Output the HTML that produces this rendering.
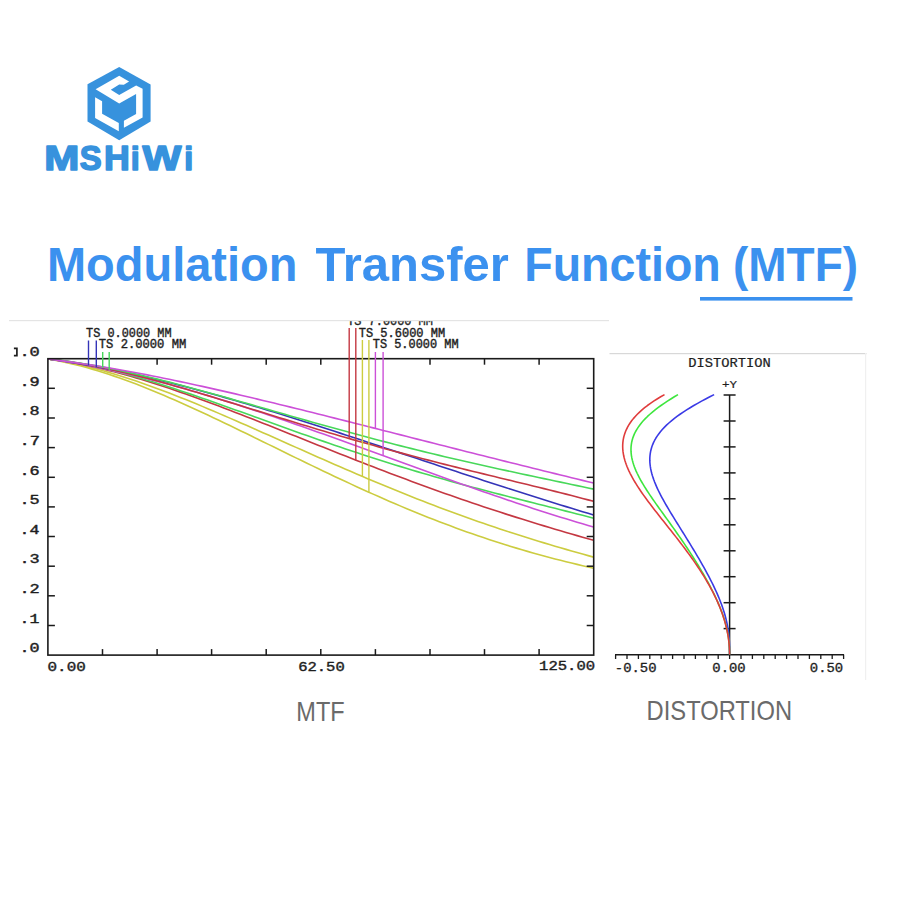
<!DOCTYPE html>
<html><head><meta charset="utf-8"><title>MTF</title>
<style>
html,body{margin:0;padding:0;background:#fff;}
body{width:900px;height:900px;overflow:hidden;font-family:"Liberation Sans",sans-serif;}
svg{display:block;}
</style></head>
<body>
<svg width="900" height="900" viewBox="0 0 900 900">
<rect width="900" height="900" fill="#fff"/>
<polygon points="119.2,67.0 150.6,84.6 150.6,121.6 119.2,140.2 87.5,121.4 87.5,84.2" fill="#3792dd"/>
<polygon points="95.6,89.3 119.2,75.8 129.1,81.5 123.8,84.8 119.2,84.5 110.8,89.8 119.2,95.0 136.1,85.4 142.6,88.8 142.6,117.6 123.9,127.8 123.9,120.8 136.1,114.0 136.1,94.0 119.2,103.4" fill="#fff"/>
<polygon points="95.1,97.3 102.1,101.3 102.1,113.7 118.8,123.0 118.8,131.3 95.1,118.0" fill="#fff"/>
<text transform="translate(44.26,169.90) scale(1.2016,1)" font-family="Liberation Sans" font-weight="bold" font-size="35.07" fill="#3792dd" stroke="#3792dd" stroke-width="1.6" stroke-linejoin="round">M</text>
<text transform="translate(79.81,169.85) scale(0.9400,1)" font-family="Liberation Sans" font-weight="bold" font-size="34.93" fill="#3792dd" stroke="#3792dd" stroke-width="1.6" stroke-linejoin="round">S</text>
<text transform="translate(104.08,169.90) scale(1.0197,1)" font-family="Liberation Sans" font-weight="bold" font-size="35.07" fill="#3792dd" stroke="#3792dd" stroke-width="1.6" stroke-linejoin="round">H</text>
<text transform="translate(130.75,169.90) scale(0.9670,1)" font-family="Liberation Sans" font-weight="bold" font-size="33.24" fill="#3792dd" stroke="#3792dd" stroke-width="1.6" stroke-linejoin="round">i</text>
<text transform="translate(142.50,169.90) scale(1.1737,1)" font-family="Liberation Sans" font-weight="bold" font-size="35.07" fill="#3792dd" stroke="#3792dd" stroke-width="1.6" stroke-linejoin="round">W</text>
<text transform="translate(184.15,169.90) scale(0.9670,1)" font-family="Liberation Sans" font-weight="bold" font-size="33.24" fill="#3792dd" stroke="#3792dd" stroke-width="1.6" stroke-linejoin="round">i</text>
<text transform="translate(46.95,280.60) scale(0.9589,1)" font-family="Liberation Sans" font-weight="bold" font-size="48.99" fill="#3b91ef">Modulation</text>
<text transform="translate(315.51,280.60) scale(0.9999,1)" font-family="Liberation Sans" font-weight="bold" font-size="48.99" fill="#3b91ef">Transfer</text>
<text transform="translate(524.17,280.60) scale(0.9512,1)" font-family="Liberation Sans" font-weight="bold" font-size="48.99" fill="#3b91ef">Function</text>
<text transform="translate(733.00,280.60) scale(0.9387,1)" font-family="Liberation Sans" font-weight="bold" font-size="48.99" fill="#3b91ef">(MTF)</text>
<rect x="700" y="297" width="152.5" height="3.6" fill="#3b91ef"/>
<path d="M48.00,359.00 L53.51,359.95 L59.02,361.00 L64.53,362.14 L70.04,363.37 L75.56,364.69 L81.07,366.09 L86.58,367.58 L92.09,369.14 L97.60,370.78 L103.11,372.49 L108.62,374.27 L114.13,376.12 L119.64,378.03 L125.16,380.00 L130.67,382.03 L136.18,384.11 L141.69,386.25 L147.20,388.44 L152.71,390.67 L158.22,392.95 L163.73,395.28 L169.24,397.64 L174.76,400.04 L180.27,402.47 L185.78,404.94 L191.29,407.43 L196.80,409.96 L202.31,412.51 L207.82,415.08 L213.33,417.68 L218.84,420.30 L224.36,422.93 L229.87,425.58 L235.38,428.24 L240.89,430.91 L246.40,433.59 L251.91,436.28 L257.42,438.98 L262.93,441.68 L268.44,444.38 L273.96,447.08 L279.47,449.79 L284.98,452.49 L290.49,455.18 L296.00,457.87 L301.51,460.55 L307.02,463.22 L312.53,465.89 L318.04,468.54 L323.56,471.18 L329.07,473.80 L334.58,476.41 L340.09,479.00 L345.60,481.58 L351.11,484.13 L356.62,486.67 L362.13,489.18 L367.64,491.67 L373.16,494.14 L378.67,496.59 L384.18,499.01 L389.69,501.41 L395.20,503.78 L400.71,506.12 L406.22,508.43 L411.73,510.72 L417.24,512.98 L422.76,515.20 L428.27,517.40 L433.78,519.56 L439.29,521.70 L444.80,523.80 L450.31,525.87 L455.82,527.91 L461.33,529.92 L466.84,531.89 L472.36,533.83 L477.87,535.74 L483.38,537.61 L488.89,539.45 L494.40,541.25 L499.91,543.02 L505.42,544.76 L510.93,546.47 L516.44,548.14 L521.96,549.77 L527.47,551.38 L532.98,552.95 L538.49,554.49 L544.00,556.00 L549.51,557.47 L555.02,558.91 L560.53,560.33 L566.04,561.71 L571.56,563.06 L577.07,564.38 L582.58,565.67 L588.09,566.94 L593.60,568.17" fill="none" stroke="#cccc40" stroke-width="1.6" stroke-linejoin="round"/>
<path d="M48.00,359.00 L53.51,359.82 L59.02,360.73 L64.53,361.73 L70.04,362.80 L75.56,363.95 L81.07,365.18 L86.58,366.49 L92.09,367.86 L97.60,369.30 L103.11,370.81 L108.62,372.38 L114.13,374.01 L119.64,375.70 L125.16,377.44 L130.67,379.24 L136.18,381.08 L141.69,382.98 L147.20,384.92 L152.71,386.90 L158.22,388.93 L163.73,391.00 L169.24,393.10 L174.76,395.24 L180.27,397.41 L185.78,399.61 L191.29,401.84 L196.80,404.10 L202.31,406.38 L207.82,408.69 L213.33,411.02 L218.84,413.37 L224.36,415.73 L229.87,418.11 L235.38,420.51 L240.89,422.92 L246.40,425.34 L251.91,427.77 L257.42,430.21 L262.93,432.65 L268.44,435.10 L273.96,437.56 L279.47,440.01 L284.98,442.47 L290.49,444.93 L296.00,447.38 L301.51,449.84 L307.02,452.28 L312.53,454.73 L318.04,457.16 L323.56,459.59 L329.07,462.02 L334.58,464.43 L340.09,466.83 L345.60,469.22 L351.11,471.60 L356.62,473.96 L362.13,476.31 L367.64,478.65 L373.16,480.97 L378.67,483.27 L384.18,485.56 L389.69,487.83 L395.20,490.08 L400.71,492.31 L406.22,494.53 L411.73,496.72 L417.24,498.90 L422.76,501.05 L428.27,503.18 L433.78,505.29 L439.29,507.38 L444.80,509.45 L450.31,511.50 L455.82,513.52 L461.33,515.52 L466.84,517.50 L472.36,519.46 L477.87,521.39 L483.38,523.30 L488.89,525.19 L494.40,527.06 L499.91,528.90 L505.42,530.73 L510.93,532.53 L516.44,534.30 L521.96,536.06 L527.47,537.80 L532.98,539.51 L538.49,541.21 L544.00,542.88 L549.51,544.53 L555.02,546.17 L560.53,547.79 L566.04,549.39 L571.56,550.97 L577.07,552.53 L582.58,554.08 L588.09,555.62 L593.60,557.13" fill="none" stroke="#cccc40" stroke-width="1.6" stroke-linejoin="round"/>
<path d="M48.00,359.00 L53.51,359.69 L59.02,360.46 L64.53,361.30 L70.04,362.22 L75.56,363.20 L81.07,364.25 L86.58,365.36 L92.09,366.54 L97.60,367.77 L103.11,369.07 L108.62,370.42 L114.13,371.82 L119.64,373.27 L125.16,374.78 L130.67,376.33 L136.18,377.93 L141.69,379.57 L147.20,381.25 L152.71,382.97 L158.22,384.73 L163.73,386.53 L169.24,388.36 L174.76,390.22 L180.27,392.12 L185.78,394.04 L191.29,396.00 L196.80,397.97 L202.31,399.98 L207.82,402.00 L213.33,404.05 L218.84,406.11 L224.36,408.20 L229.87,410.30 L235.38,412.41 L240.89,414.54 L246.40,416.69 L251.91,418.84 L257.42,421.01 L262.93,423.18 L268.44,425.36 L273.96,427.55 L279.47,429.74 L284.98,431.94 L290.49,434.14 L296.00,436.34 L301.51,438.54 L307.02,440.74 L312.53,442.94 L318.04,445.14 L323.56,447.34 L329.07,449.53 L334.58,451.71 L340.09,453.90 L345.60,456.07 L351.11,458.24 L356.62,460.40 L362.13,462.55 L367.64,464.69 L373.16,466.82 L378.67,468.94 L384.18,471.05 L389.69,473.15 L395.20,475.24 L400.71,477.31 L406.22,479.37 L411.73,481.42 L417.24,483.45 L422.76,485.47 L428.27,487.47 L433.78,489.46 L439.29,491.44 L444.80,493.39 L450.31,495.34 L455.82,497.26 L461.33,499.17 L466.84,501.07 L472.36,502.94 L477.87,504.81 L483.38,506.65 L488.89,508.48 L494.40,510.29 L499.91,512.09 L505.42,513.87 L510.93,515.63 L516.44,517.38 L521.96,519.11 L527.47,520.83 L532.98,522.53 L538.49,524.22 L544.00,525.89 L549.51,527.55 L555.02,529.19 L560.53,530.82 L566.04,532.44 L571.56,534.04 L577.07,535.63 L582.58,537.22 L588.09,538.79 L593.60,540.34" fill="none" stroke="#c43842" stroke-width="1.6" stroke-linejoin="round"/>
<path d="M48.00,359.00 L53.51,359.59 L59.02,360.26 L64.53,361.02 L70.04,361.86 L75.56,362.77 L81.07,363.75 L86.58,364.80 L92.09,365.92 L97.60,367.11 L103.11,368.35 L108.62,369.65 L114.13,371.01 L119.64,372.42 L125.16,373.88 L130.67,375.39 L136.18,376.94 L141.69,378.53 L147.20,380.16 L152.71,381.83 L158.22,383.54 L163.73,385.28 L169.24,387.05 L174.76,388.84 L180.27,390.66 L185.78,392.51 L191.29,394.38 L196.80,396.27 L202.31,398.17 L207.82,400.10 L213.33,402.03 L218.84,403.98 L224.36,405.94 L229.87,407.91 L235.38,409.88 L240.89,411.87 L246.40,413.85 L251.91,415.84 L257.42,417.83 L262.93,419.82 L268.44,421.81 L273.96,423.80 L279.47,425.78 L284.98,427.76 L290.49,429.73 L296.00,431.69 L301.51,433.65 L307.02,435.60 L312.53,437.53 L318.04,439.46 L323.56,441.38 L329.07,443.28 L334.58,445.17 L340.09,447.04 L345.60,448.90 L351.11,450.75 L356.62,452.58 L362.13,454.40 L367.64,456.20 L373.16,457.98 L378.67,459.74 L384.18,461.49 L389.69,463.22 L395.20,464.94 L400.71,466.63 L406.22,468.31 L411.73,469.97 L417.24,471.62 L422.76,473.24 L428.27,474.85 L433.78,476.44 L439.29,478.02 L444.80,479.58 L450.31,481.12 L455.82,482.65 L461.33,484.17 L466.84,485.66 L472.36,487.15 L477.87,488.62 L483.38,490.08 L488.89,491.53 L494.40,492.96 L499.91,494.39 L505.42,495.81 L510.93,497.22 L516.44,498.62 L521.96,500.01 L527.47,501.40 L532.98,502.79 L538.49,504.17 L544.00,505.56 L549.51,506.94 L555.02,508.32 L560.53,509.71 L566.04,511.10 L571.56,512.49 L577.07,513.90 L582.58,515.31 L588.09,516.73 L593.60,518.16" fill="none" stroke="#48d85a" stroke-width="1.6" stroke-linejoin="round"/>
<path d="M48.00,359.00 L53.51,359.79 L59.02,360.61 L64.53,361.48 L70.04,362.38 L75.56,363.32 L81.07,364.30 L86.58,365.31 L92.09,366.37 L97.60,367.45 L103.11,368.57 L108.62,369.73 L114.13,370.92 L119.64,372.14 L125.16,373.39 L130.67,374.67 L136.18,375.99 L141.69,377.33 L147.20,378.70 L152.71,380.10 L158.22,381.53 L163.73,382.99 L169.24,384.47 L174.76,385.98 L180.27,387.52 L185.78,389.08 L191.29,390.66 L196.80,392.27 L202.31,393.90 L207.82,395.55 L213.33,397.22 L218.84,398.91 L224.36,400.62 L229.87,402.36 L235.38,404.11 L240.89,405.87 L246.40,407.66 L251.91,409.46 L257.42,411.28 L262.93,413.11 L268.44,414.96 L273.96,416.83 L279.47,418.70 L284.98,420.59 L290.49,422.49 L296.00,424.40 L301.51,426.33 L307.02,428.26 L312.53,430.20 L318.04,432.16 L323.56,434.12 L329.07,436.08 L334.58,438.06 L340.09,440.04 L345.60,442.03 L351.11,444.02 L356.62,446.01 L362.13,448.01 L367.64,450.02 L373.16,452.02 L378.67,454.03 L384.18,456.04 L389.69,458.04 L395.20,460.05 L400.71,462.06 L406.22,464.07 L411.73,466.07 L417.24,468.07 L422.76,470.07 L428.27,472.07 L433.78,474.06 L439.29,476.04 L444.80,478.02 L450.31,480.00 L455.82,481.96 L461.33,483.92 L466.84,485.87 L472.36,487.81 L477.87,489.74 L483.38,491.66 L488.89,493.57 L494.40,495.47 L499.91,497.36 L505.42,499.24 L510.93,501.10 L516.44,502.94 L521.96,504.78 L527.47,506.59 L532.98,508.40 L538.49,510.18 L544.00,511.95 L549.51,513.70 L555.02,515.43 L560.53,517.15 L566.04,518.84 L571.56,520.51 L577.07,522.17 L582.58,523.80 L588.09,525.41 L593.60,526.99" fill="none" stroke="#cc50d8" stroke-width="1.6" stroke-linejoin="round"/>
<path d="M48.00,359.00 L53.51,359.73 L59.02,360.49 L64.53,361.29 L70.04,362.13 L75.56,363.00 L81.07,363.91 L86.58,364.85 L92.09,365.83 L97.60,366.84 L103.11,367.88 L108.62,368.95 L114.13,370.05 L119.64,371.18 L125.16,372.34 L130.67,373.53 L136.18,374.74 L141.69,375.98 L147.20,377.25 L152.71,378.54 L158.22,379.86 L163.73,381.20 L169.24,382.57 L174.76,383.95 L180.27,385.36 L185.78,386.79 L191.29,388.25 L196.80,389.72 L202.31,391.21 L207.82,392.72 L213.33,394.25 L218.84,395.80 L224.36,397.36 L229.87,398.94 L235.38,400.53 L240.89,402.15 L246.40,403.77 L251.91,405.41 L257.42,407.07 L262.93,408.73 L268.44,410.41 L273.96,412.10 L279.47,413.80 L284.98,415.52 L290.49,417.24 L296.00,418.97 L301.51,420.72 L307.02,422.47 L312.53,424.23 L318.04,426.00 L323.56,427.77 L329.07,429.55 L334.58,431.34 L340.09,433.13 L345.60,434.93 L351.11,436.74 L356.62,438.54 L362.13,440.36 L367.64,442.17 L373.16,443.99 L378.67,445.81 L384.18,447.64 L389.69,449.46 L395.20,451.29 L400.71,453.12 L406.22,454.94 L411.73,456.77 L417.24,458.60 L422.76,460.43 L428.27,462.26 L433.78,464.08 L439.29,465.91 L444.80,467.73 L450.31,469.55 L455.82,471.36 L461.33,473.18 L466.84,474.99 L472.36,476.79 L477.87,478.60 L483.38,480.39 L488.89,482.19 L494.40,483.97 L499.91,485.76 L505.42,487.53 L510.93,489.30 L516.44,491.07 L521.96,492.83 L527.47,494.58 L532.98,496.32 L538.49,498.06 L544.00,499.79 L549.51,501.51 L555.02,503.23 L560.53,504.93 L566.04,506.63 L571.56,508.32 L577.07,510.00 L582.58,511.67 L588.09,513.33 L593.60,514.98" fill="none" stroke="#3434b8" stroke-width="1.6" stroke-linejoin="round"/>
<path d="M48.00,359.00 L53.51,359.60 L59.02,360.28 L64.53,361.02 L70.04,361.82 L75.56,362.68 L81.07,363.60 L86.58,364.58 L92.09,365.61 L97.60,366.69 L103.11,367.82 L108.62,369.00 L114.13,370.22 L119.64,371.48 L125.16,372.78 L130.67,374.11 L136.18,375.49 L141.69,376.89 L147.20,378.33 L152.71,379.79 L158.22,381.28 L163.73,382.80 L169.24,384.34 L174.76,385.91 L180.27,387.49 L185.78,389.09 L191.29,390.71 L196.80,392.34 L202.31,393.99 L207.82,395.64 L213.33,397.31 L218.84,398.99 L224.36,400.68 L229.87,402.37 L235.38,404.07 L240.89,405.77 L246.40,407.47 L251.91,409.17 L257.42,410.88 L262.93,412.59 L268.44,414.29 L273.96,415.99 L279.47,417.69 L284.98,419.38 L290.49,421.07 L296.00,422.75 L301.51,424.43 L307.02,426.09 L312.53,427.75 L318.04,429.40 L323.56,431.05 L329.07,432.68 L334.58,434.30 L340.09,435.92 L345.60,437.52 L351.11,439.11 L356.62,440.69 L362.13,442.25 L367.64,443.81 L373.16,445.35 L378.67,446.88 L384.18,448.40 L389.69,449.91 L395.20,451.41 L400.71,452.89 L406.22,454.36 L411.73,455.82 L417.24,457.27 L422.76,458.70 L428.27,460.13 L433.78,461.55 L439.29,462.95 L444.80,464.35 L450.31,465.74 L455.82,467.11 L461.33,468.49 L466.84,469.85 L472.36,471.21 L477.87,472.56 L483.38,473.90 L488.89,475.24 L494.40,476.58 L499.91,477.92 L505.42,479.25 L510.93,480.59 L516.44,481.92 L521.96,483.26 L527.47,484.59 L532.98,485.94 L538.49,487.28 L544.00,488.64 L549.51,490.00 L555.02,491.37 L560.53,492.75 L566.04,494.14 L571.56,495.55 L577.07,496.97 L582.58,498.41 L588.09,499.87 L593.60,501.35" fill="none" stroke="#c43842" stroke-width="1.6" stroke-linejoin="round"/>
<path d="M48.00,359.00 L53.51,359.58 L59.02,360.21 L64.53,360.90 L70.04,361.64 L75.56,362.44 L81.07,363.29 L86.58,364.18 L92.09,365.13 L97.60,366.11 L103.11,367.14 L108.62,368.21 L114.13,369.32 L119.64,370.46 L125.16,371.64 L130.67,372.86 L136.18,374.10 L141.69,375.38 L147.20,376.68 L152.71,378.01 L158.22,379.37 L163.73,380.75 L169.24,382.15 L174.76,383.57 L180.27,385.01 L185.78,386.47 L191.29,387.94 L196.80,389.43 L202.31,390.94 L207.82,392.45 L213.33,393.98 L218.84,395.52 L224.36,397.07 L229.87,398.62 L235.38,400.18 L240.89,401.75 L246.40,403.32 L251.91,404.89 L257.42,406.47 L262.93,408.05 L268.44,409.62 L273.96,411.20 L279.47,412.78 L284.98,414.35 L290.49,415.93 L296.00,417.50 L301.51,419.06 L307.02,420.62 L312.53,422.17 L318.04,423.72 L323.56,425.26 L329.07,426.80 L334.58,428.32 L340.09,429.84 L345.60,431.35 L351.11,432.85 L356.62,434.34 L362.13,435.81 L367.64,437.28 L373.16,438.74 L378.67,440.19 L384.18,441.63 L389.69,443.05 L395.20,444.47 L400.71,445.87 L406.22,447.26 L411.73,448.64 L417.24,450.01 L422.76,451.36 L428.27,452.70 L433.78,454.04 L439.29,455.36 L444.80,456.67 L450.31,457.96 L455.82,459.25 L461.33,460.53 L466.84,461.79 L472.36,463.05 L477.87,464.30 L483.38,465.53 L488.89,466.76 L494.40,467.98 L499.91,469.19 L505.42,470.39 L510.93,471.59 L516.44,472.77 L521.96,473.96 L527.47,475.14 L532.98,476.31 L538.49,477.48 L544.00,478.64 L549.51,479.81 L555.02,480.97 L560.53,482.13 L566.04,483.29 L571.56,484.45 L577.07,485.62 L582.58,486.78 L588.09,487.95 L593.60,489.13" fill="none" stroke="#48d85a" stroke-width="1.6" stroke-linejoin="round"/>
<path d="M48.00,359.00 L53.51,359.67 L59.02,360.38 L64.53,361.11 L70.04,361.86 L75.56,362.65 L81.07,363.45 L86.58,364.29 L92.09,365.14 L97.60,366.02 L103.11,366.93 L108.62,367.85 L114.13,368.80 L119.64,369.77 L125.16,370.75 L130.67,371.76 L136.18,372.79 L141.69,373.83 L147.20,374.90 L152.71,375.98 L158.22,377.07 L163.73,378.19 L169.24,379.32 L174.76,380.46 L180.27,381.62 L185.78,382.79 L191.29,383.98 L196.80,385.18 L202.31,386.39 L207.82,387.61 L213.33,388.85 L218.84,390.10 L224.36,391.35 L229.87,392.62 L235.38,393.90 L240.89,395.19 L246.40,396.48 L251.91,397.79 L257.42,399.10 L262.93,400.42 L268.44,401.75 L273.96,403.08 L279.47,404.42 L284.98,405.77 L290.49,407.12 L296.00,408.48 L301.51,409.84 L307.02,411.21 L312.53,412.58 L318.04,413.96 L323.56,415.34 L329.07,416.72 L334.58,418.11 L340.09,419.50 L345.60,420.89 L351.11,422.28 L356.62,423.68 L362.13,425.08 L367.64,426.48 L373.16,427.88 L378.67,429.28 L384.18,430.68 L389.69,432.08 L395.20,433.49 L400.71,434.89 L406.22,436.29 L411.73,437.69 L417.24,439.10 L422.76,440.50 L428.27,441.90 L433.78,443.30 L439.29,444.70 L444.80,446.09 L450.31,447.49 L455.82,448.88 L461.33,450.28 L466.84,451.67 L472.36,453.06 L477.87,454.44 L483.38,455.83 L488.89,457.21 L494.40,458.59 L499.91,459.97 L505.42,461.35 L510.93,462.72 L516.44,464.09 L521.96,465.46 L527.47,466.83 L532.98,468.19 L538.49,469.56 L544.00,470.91 L549.51,472.27 L555.02,473.63 L560.53,474.98 L566.04,476.33 L571.56,477.68 L577.07,479.02 L582.58,480.36 L588.09,481.70 L593.60,483.04" fill="none" stroke="#cc50d8" stroke-width="1.6" stroke-linejoin="round"/>
<rect x="47.9" y="358.7" width="545.8000000000001" height="296.40000000000003" fill="none" stroke="#1a1a1a" stroke-width="1.6"/>
<line x1="47.9" y1="388.3" x2="54.9" y2="388.3" stroke="#1a1a1a" stroke-width="1.5"/>
<line x1="593.7" y1="388.3" x2="586.7" y2="388.3" stroke="#1a1a1a" stroke-width="1.5"/>
<line x1="102.5" y1="655.1" x2="102.5" y2="649.1" stroke="#1a1a1a" stroke-width="1.5"/>
<line x1="47.9" y1="418.0" x2="54.9" y2="418.0" stroke="#1a1a1a" stroke-width="1.5"/>
<line x1="593.7" y1="418.0" x2="586.7" y2="418.0" stroke="#1a1a1a" stroke-width="1.5"/>
<line x1="157.1" y1="655.1" x2="157.1" y2="649.1" stroke="#1a1a1a" stroke-width="1.5"/>
<line x1="157.1" y1="358.7" x2="157.1" y2="364.7" stroke="#1a1a1a" stroke-width="1.5"/>
<line x1="47.9" y1="447.6" x2="54.9" y2="447.6" stroke="#1a1a1a" stroke-width="1.5"/>
<line x1="593.7" y1="447.6" x2="586.7" y2="447.6" stroke="#1a1a1a" stroke-width="1.5"/>
<line x1="211.6" y1="655.1" x2="211.6" y2="649.1" stroke="#1a1a1a" stroke-width="1.5"/>
<line x1="211.6" y1="358.7" x2="211.6" y2="364.7" stroke="#1a1a1a" stroke-width="1.5"/>
<line x1="47.9" y1="477.3" x2="54.9" y2="477.3" stroke="#1a1a1a" stroke-width="1.5"/>
<line x1="593.7" y1="477.3" x2="586.7" y2="477.3" stroke="#1a1a1a" stroke-width="1.5"/>
<line x1="266.2" y1="655.1" x2="266.2" y2="649.1" stroke="#1a1a1a" stroke-width="1.5"/>
<line x1="266.2" y1="358.7" x2="266.2" y2="364.7" stroke="#1a1a1a" stroke-width="1.5"/>
<line x1="47.9" y1="506.9" x2="54.9" y2="506.9" stroke="#1a1a1a" stroke-width="1.5"/>
<line x1="593.7" y1="506.9" x2="586.7" y2="506.9" stroke="#1a1a1a" stroke-width="1.5"/>
<line x1="320.8" y1="655.1" x2="320.8" y2="649.1" stroke="#1a1a1a" stroke-width="1.5"/>
<line x1="320.8" y1="358.7" x2="320.8" y2="364.7" stroke="#1a1a1a" stroke-width="1.5"/>
<line x1="47.9" y1="536.5" x2="54.9" y2="536.5" stroke="#1a1a1a" stroke-width="1.5"/>
<line x1="593.7" y1="536.5" x2="586.7" y2="536.5" stroke="#1a1a1a" stroke-width="1.5"/>
<line x1="375.4" y1="655.1" x2="375.4" y2="649.1" stroke="#1a1a1a" stroke-width="1.5"/>
<line x1="47.9" y1="566.2" x2="54.9" y2="566.2" stroke="#1a1a1a" stroke-width="1.5"/>
<line x1="593.7" y1="566.2" x2="586.7" y2="566.2" stroke="#1a1a1a" stroke-width="1.5"/>
<line x1="430.0" y1="655.1" x2="430.0" y2="649.1" stroke="#1a1a1a" stroke-width="1.5"/>
<line x1="430.0" y1="358.7" x2="430.0" y2="364.7" stroke="#1a1a1a" stroke-width="1.5"/>
<line x1="47.9" y1="595.8" x2="54.9" y2="595.8" stroke="#1a1a1a" stroke-width="1.5"/>
<line x1="593.7" y1="595.8" x2="586.7" y2="595.8" stroke="#1a1a1a" stroke-width="1.5"/>
<line x1="484.5" y1="655.1" x2="484.5" y2="649.1" stroke="#1a1a1a" stroke-width="1.5"/>
<line x1="484.5" y1="358.7" x2="484.5" y2="364.7" stroke="#1a1a1a" stroke-width="1.5"/>
<line x1="47.9" y1="625.5" x2="54.9" y2="625.5" stroke="#1a1a1a" stroke-width="1.5"/>
<line x1="593.7" y1="625.5" x2="586.7" y2="625.5" stroke="#1a1a1a" stroke-width="1.5"/>
<line x1="539.1" y1="655.1" x2="539.1" y2="649.1" stroke="#1a1a1a" stroke-width="1.5"/>
<line x1="539.1" y1="358.7" x2="539.1" y2="364.7" stroke="#1a1a1a" stroke-width="1.5"/>
<line x1="88.5" y1="340.5" x2="88.5" y2="365.5" stroke="#3434b8" stroke-width="1.4"/>
<line x1="96.3" y1="340.5" x2="96.3" y2="366.9" stroke="#3434b8" stroke-width="1.4"/>
<line x1="102.7" y1="352.0" x2="102.7" y2="367.4" stroke="#48d85a" stroke-width="1.4"/>
<line x1="109.2" y1="352.0" x2="109.2" y2="370.1" stroke="#48d85a" stroke-width="1.4"/>
<line x1="349.2" y1="328.0" x2="349.2" y2="438.9" stroke="#c43842" stroke-width="1.4"/>
<line x1="355.8" y1="328.0" x2="355.8" y2="460.4" stroke="#c43842" stroke-width="1.4"/>
<line x1="362.4" y1="340.0" x2="362.4" y2="476.7" stroke="#cccc40" stroke-width="1.4"/>
<line x1="368.9" y1="340.0" x2="368.9" y2="492.5" stroke="#cccc40" stroke-width="1.4"/>
<line x1="375.4" y1="352.0" x2="375.4" y2="428.7" stroke="#cc50d8" stroke-width="1.4"/>
<line x1="383.1" y1="352.0" x2="383.1" y2="455.9" stroke="#cc50d8" stroke-width="1.4"/>
<text transform="translate(19.42,355.88) scale(1.3600,1)" font-family="Liberation Mono" font-size="12.50" fill="#1e1e1e" stroke="#1e1e1e" stroke-width="0.4" stroke-linejoin="round">.0</text>
<path d="M13.9,348.3 H16.9 V355.6 H13.9" fill="none" stroke="#1e1e1e" stroke-width="1.7"/>
<text transform="translate(19.43,385.62) scale(1.4070,1)" font-family="Liberation Mono" font-size="12.06" fill="#1e1e1e" stroke="#1e1e1e" stroke-width="0.4" stroke-linejoin="round">.9</text>
<text transform="translate(19.45,415.26) scale(1.3991,1)" font-family="Liberation Mono" font-size="12.06" fill="#1e1e1e" stroke="#1e1e1e" stroke-width="0.4" stroke-linejoin="round">.8</text>
<text transform="translate(19.38,445.02) scale(1.3811,1)" font-family="Liberation Mono" font-size="12.42" fill="#1e1e1e" stroke="#1e1e1e" stroke-width="0.4" stroke-linejoin="round">.7</text>
<text transform="translate(19.45,474.54) scale(1.3991,1)" font-family="Liberation Mono" font-size="12.06" fill="#1e1e1e" stroke="#1e1e1e" stroke-width="0.4" stroke-linejoin="round">.6</text>
<text transform="translate(19.45,504.18) scale(1.3785,1)" font-family="Liberation Mono" font-size="12.24" fill="#1e1e1e" stroke="#1e1e1e" stroke-width="0.4" stroke-linejoin="round">.5</text>
<text transform="translate(19.52,533.94) scale(1.3356,1)" font-family="Liberation Mono" font-size="12.42" fill="#1e1e1e" stroke="#1e1e1e" stroke-width="0.4" stroke-linejoin="round">.4</text>
<text transform="translate(19.45,563.46) scale(1.3991,1)" font-family="Liberation Mono" font-size="12.06" fill="#1e1e1e" stroke="#1e1e1e" stroke-width="0.4" stroke-linejoin="round">.3</text>
<text transform="translate(19.43,593.22) scale(1.3863,1)" font-family="Liberation Mono" font-size="12.24" fill="#1e1e1e" stroke="#1e1e1e" stroke-width="0.4" stroke-linejoin="round">.2</text>
<text transform="translate(19.52,622.86) scale(1.3356,1)" font-family="Liberation Mono" font-size="12.42" fill="#1e1e1e" stroke="#1e1e1e" stroke-width="0.4" stroke-linejoin="round">.1</text>
<text transform="translate(19.47,652.38) scale(1.3913,1)" font-family="Liberation Mono" font-size="12.06" fill="#1e1e1e" stroke="#1e1e1e" stroke-width="0.4" stroke-linejoin="round">.0</text>
<text transform="translate(47.54,670.67) scale(1.2164,1)" font-family="Liberation Mono" font-size="13.09" fill="#1e1e1e" stroke="#1e1e1e" stroke-width="0.4" stroke-linejoin="round">0.00</text>
<text transform="translate(298.14,670.56) scale(1.1357,1)" font-family="Liberation Mono" font-size="13.68" fill="#1e1e1e" stroke="#1e1e1e" stroke-width="0.4" stroke-linejoin="round">62.50</text>
<text transform="translate(539.11,670.46) scale(1.1502,1)" font-family="Liberation Mono" font-size="13.53" fill="#1e1e1e" stroke="#1e1e1e" stroke-width="0.4" stroke-linejoin="round">125.00</text>
<text transform="translate(86.08,336.97) scale(0.9072,1)" font-family="Liberation Mono" font-size="13.09" fill="#1e1e1e" stroke="#1e1e1e" stroke-width="0.4" stroke-linejoin="round">TS 0.0000 MM</text>
<text transform="translate(98.77,348.38) scale(0.9958,1)" font-family="Liberation Mono" font-size="12.21" fill="#1e1e1e" stroke="#1e1e1e" stroke-width="0.4" stroke-linejoin="round">TS 2.0000 MM</text>
<text transform="translate(347.18,324.67) scale(0.9104,1)" font-family="Liberation Mono" font-size="13.09" fill="#1e1e1e" stroke="#1e1e1e" stroke-width="0.4" stroke-linejoin="round">TS 7.0000 MM</text>
<text transform="translate(358.78,336.58) scale(0.9831,1)" font-family="Liberation Mono" font-size="12.21" fill="#1e1e1e" stroke="#1e1e1e" stroke-width="0.4" stroke-linejoin="round">TS 5.6000 MM</text>
<text transform="translate(372.78,348.18) scale(1.0003,1)" font-family="Liberation Mono" font-size="11.91" fill="#1e1e1e" stroke="#1e1e1e" stroke-width="0.4" stroke-linejoin="round">TS 5.0000 MM</text>
<rect x="0" y="305" width="609" height="15" fill="#fff"/>
<rect x="9" y="320" width="600" height="1.2" fill="#e4e4e4"/>
<rect x="609.5" y="353" width="257" height="1.2" fill="#d8d8d8"/>
<rect x="865" y="353" width="1.2" height="327" fill="#f0f0f0"/>
<text transform="translate(688.20,366.67) scale(1.1014,1)" font-family="Liberation Mono" font-size="12.50" fill="#1e1e1e" stroke="#1e1e1e" stroke-width="0.2" stroke-linejoin="round">DISTORTION</text>
<text transform="translate(722.01,387.80) scale(1.0819,1)" font-family="Liberation Mono" font-size="11.67" fill="#1e1e1e" stroke="#1e1e1e" stroke-width="0.2" stroke-linejoin="round">+Y</text>
<line x1="729.6" y1="395" x2="729.6" y2="654.6" stroke="#1a1a1a" stroke-width="1.5"/>
<line x1="723.6" y1="395.0" x2="735.6" y2="395.0" stroke="#1a1a1a" stroke-width="1.5"/>
<line x1="723.6" y1="421.0" x2="735.6" y2="421.0" stroke="#1a1a1a" stroke-width="1.5"/>
<line x1="723.6" y1="446.9" x2="735.6" y2="446.9" stroke="#1a1a1a" stroke-width="1.5"/>
<line x1="723.6" y1="472.9" x2="735.6" y2="472.9" stroke="#1a1a1a" stroke-width="1.5"/>
<line x1="723.6" y1="498.8" x2="735.6" y2="498.8" stroke="#1a1a1a" stroke-width="1.5"/>
<line x1="723.6" y1="524.8" x2="735.6" y2="524.8" stroke="#1a1a1a" stroke-width="1.5"/>
<line x1="723.6" y1="550.8" x2="735.6" y2="550.8" stroke="#1a1a1a" stroke-width="1.5"/>
<line x1="723.6" y1="576.7" x2="735.6" y2="576.7" stroke="#1a1a1a" stroke-width="1.5"/>
<line x1="723.6" y1="602.7" x2="735.6" y2="602.7" stroke="#1a1a1a" stroke-width="1.5"/>
<line x1="723.6" y1="628.6" x2="735.6" y2="628.6" stroke="#1a1a1a" stroke-width="1.5"/>
<line x1="615.0" y1="654.8" x2="844.0" y2="654.8" stroke="#1a1a1a" stroke-width="1.6"/>
<line x1="615.6" y1="654.6" x2="615.6" y2="659" stroke="#1a1a1a" stroke-width="1.3"/>
<line x1="627.0" y1="654.6" x2="627.0" y2="659" stroke="#1a1a1a" stroke-width="1.3"/>
<line x1="638.4" y1="654.6" x2="638.4" y2="659" stroke="#1a1a1a" stroke-width="1.3"/>
<line x1="649.8" y1="654.6" x2="649.8" y2="659" stroke="#1a1a1a" stroke-width="1.3"/>
<line x1="661.2" y1="654.6" x2="661.2" y2="659" stroke="#1a1a1a" stroke-width="1.3"/>
<line x1="672.6" y1="654.6" x2="672.6" y2="659" stroke="#1a1a1a" stroke-width="1.3"/>
<line x1="684.0" y1="654.6" x2="684.0" y2="659" stroke="#1a1a1a" stroke-width="1.3"/>
<line x1="695.4" y1="654.6" x2="695.4" y2="659" stroke="#1a1a1a" stroke-width="1.3"/>
<line x1="706.8" y1="654.6" x2="706.8" y2="659" stroke="#1a1a1a" stroke-width="1.3"/>
<line x1="718.2" y1="654.6" x2="718.2" y2="659" stroke="#1a1a1a" stroke-width="1.3"/>
<line x1="729.6" y1="654.6" x2="729.6" y2="659" stroke="#1a1a1a" stroke-width="1.3"/>
<line x1="741.0" y1="654.6" x2="741.0" y2="659" stroke="#1a1a1a" stroke-width="1.3"/>
<line x1="752.4" y1="654.6" x2="752.4" y2="659" stroke="#1a1a1a" stroke-width="1.3"/>
<line x1="763.8" y1="654.6" x2="763.8" y2="659" stroke="#1a1a1a" stroke-width="1.3"/>
<line x1="775.2" y1="654.6" x2="775.2" y2="659" stroke="#1a1a1a" stroke-width="1.3"/>
<line x1="786.6" y1="654.6" x2="786.6" y2="659" stroke="#1a1a1a" stroke-width="1.3"/>
<line x1="798.0" y1="654.6" x2="798.0" y2="659" stroke="#1a1a1a" stroke-width="1.3"/>
<line x1="809.4" y1="654.6" x2="809.4" y2="659" stroke="#1a1a1a" stroke-width="1.3"/>
<line x1="820.8" y1="654.6" x2="820.8" y2="659" stroke="#1a1a1a" stroke-width="1.3"/>
<line x1="832.2" y1="654.6" x2="832.2" y2="659" stroke="#1a1a1a" stroke-width="1.3"/>
<line x1="843.6" y1="654.6" x2="843.6" y2="659" stroke="#1a1a1a" stroke-width="1.3"/>
<text transform="translate(614.85,672.03) scale(1.1535,1)" font-family="Liberation Mono" font-size="12.06" fill="#1e1e1e" stroke="#1e1e1e" stroke-width="0.3" stroke-linejoin="round">-0.50</text>
<text transform="translate(712.32,672.03) scale(1.1530,1)" font-family="Liberation Mono" font-size="12.06" fill="#1e1e1e" stroke="#1e1e1e" stroke-width="0.3" stroke-linejoin="round">0.00</text>
<text transform="translate(809.82,672.03) scale(1.1530,1)" font-family="Liberation Mono" font-size="12.06" fill="#1e1e1e" stroke="#1e1e1e" stroke-width="0.3" stroke-linejoin="round">0.50</text>
<path d="M729.60,654.60 L729.60,652.42 L729.58,650.23 L729.56,648.05 L729.51,645.86 L729.43,643.68 L729.32,641.49 L729.19,639.31 L729.01,637.12 L728.80,634.94 L728.55,632.75 L728.25,630.57 L727.92,628.38 L727.54,626.20 L727.12,624.01 L726.66,621.83 L726.15,619.64 L725.60,617.46 L725.01,615.27 L724.38,613.09 L723.71,610.90 L723.00,608.72 L722.25,606.53 L721.47,604.35 L720.65,602.16 L719.79,599.98 L718.91,597.79 L717.99,595.61 L717.04,593.42 L716.06,591.24 L715.06,589.05 L714.03,586.87 L712.97,584.68 L711.90,582.50 L710.79,580.31 L709.67,578.13 L708.53,575.94 L707.37,573.76 L706.19,571.57 L704.99,569.39 L703.77,567.21 L702.54,565.02 L701.30,562.84 L700.04,560.65 L698.77,558.47 L697.49,556.28 L696.19,554.10 L694.89,551.91 L693.57,549.73 L692.25,547.54 L690.92,545.36 L689.58,543.17 L688.23,540.99 L686.88,538.80 L685.52,536.62 L684.16,534.43 L682.80,532.25 L681.43,530.06 L680.07,527.88 L678.70,525.69 L677.34,523.51 L675.98,521.32 L674.63,519.14 L673.28,516.95 L671.94,514.77 L670.61,512.58 L669.30,510.40 L668.00,508.21 L666.72,506.03 L665.45,503.84 L664.21,501.66 L663.00,499.47 L661.82,497.29 L660.66,495.10 L659.55,492.92 L658.47,490.73 L657.43,488.55 L656.44,486.36 L655.51,484.18 L654.62,481.99 L653.80,479.81 L653.04,477.63 L652.34,475.44 L651.72,473.26 L651.18,471.07 L650.72,468.89 L650.35,466.70 L650.07,464.52 L649.88,462.33 L649.81,460.15 L649.83,457.96 L649.98,455.78 L650.24,453.59 L650.62,451.41 L651.14,449.22 L651.78,447.04 L652.57,444.85 L653.49,442.67 L654.57,440.48 L655.79,438.30 L657.17,436.11 L658.71,433.93 L660.41,431.74 L662.28,429.56 L664.31,427.37 L666.51,425.19 L668.88,423.00 L671.41,420.82 L674.12,418.63 L677.00,416.45 L680.04,414.26 L683.24,412.08 L686.61,409.89 L690.13,407.71 L693.80,405.52 L697.62,403.34 L701.56,401.15 L705.64,398.97 L709.82,396.78 L714.11,394.60" fill="none" stroke="#3a3ae6" stroke-width="1.6" stroke-linejoin="round"/>
<path d="M729.60,654.60 L729.58,652.42 L729.53,650.23 L729.45,648.05 L729.32,645.86 L729.15,643.68 L728.94,641.49 L728.68,639.31 L728.38,637.12 L728.04,634.94 L727.64,632.75 L727.21,630.57 L726.73,628.38 L726.20,626.20 L725.63,624.01 L725.02,621.83 L724.36,619.64 L723.67,617.46 L722.94,615.27 L722.17,613.09 L721.36,610.90 L720.51,608.72 L719.64,606.53 L718.72,604.35 L717.78,602.16 L716.81,599.98 L715.81,597.79 L714.78,595.61 L713.72,593.42 L712.64,591.24 L711.53,589.05 L710.40,586.87 L709.25,584.68 L708.07,582.50 L706.88,580.31 L705.66,578.13 L704.43,575.94 L703.17,573.76 L701.90,571.57 L700.61,569.39 L699.30,567.21 L697.98,565.02 L696.64,562.84 L695.28,560.65 L693.91,558.47 L692.52,556.28 L691.12,554.10 L689.71,551.91 L688.27,549.73 L686.83,547.54 L685.37,545.36 L683.90,543.17 L682.41,540.99 L680.91,538.80 L679.41,536.62 L677.89,534.43 L676.35,532.25 L674.81,530.06 L673.27,527.88 L671.71,525.69 L670.15,523.51 L668.58,521.32 L667.01,519.14 L665.43,516.95 L663.86,514.77 L662.28,512.58 L660.71,510.40 L659.14,508.21 L657.58,506.03 L656.03,503.84 L654.50,501.66 L652.97,499.47 L651.47,497.29 L649.99,495.10 L648.53,492.92 L647.10,490.73 L645.70,488.55 L644.33,486.36 L643.01,484.18 L641.73,481.99 L640.49,479.81 L639.31,477.63 L638.19,475.44 L637.13,473.26 L636.13,471.07 L635.21,468.89 L634.36,466.70 L633.60,464.52 L632.92,462.33 L632.33,460.15 L631.85,457.96 L631.46,455.78 L631.19,453.59 L631.02,451.41 L630.98,449.22 L631.06,447.04 L631.27,444.85 L631.61,442.67 L632.09,440.48 L632.72,438.30 L633.49,436.11 L634.41,433.93 L635.48,431.74 L636.72,429.56 L638.11,427.37 L639.66,425.19 L641.38,423.00 L643.26,420.82 L645.31,418.63 L647.52,416.45 L649.90,414.26 L652.43,412.08 L655.13,409.89 L657.98,407.71 L660.98,405.52 L664.12,403.34 L667.41,401.15 L670.82,398.97 L674.35,396.78 L677.98,394.60" fill="none" stroke="#3ee63e" stroke-width="1.6" stroke-linejoin="round"/>
<path d="M729.60,654.60 L729.58,652.42 L729.52,650.23 L729.41,648.05 L729.26,645.86 L729.07,643.68 L728.84,641.49 L728.57,639.31 L728.25,637.12 L727.89,634.94 L727.49,632.75 L727.05,630.57 L726.56,628.38 L726.04,626.20 L725.47,624.01 L724.87,621.83 L724.22,619.64 L723.53,617.46 L722.81,615.27 L722.05,613.09 L721.25,610.90 L720.41,608.72 L719.53,606.53 L718.62,604.35 L717.67,602.16 L716.69,599.98 L715.67,597.79 L714.61,595.61 L713.53,593.42 L712.41,591.24 L711.25,589.05 L710.07,586.87 L708.85,584.68 L707.60,582.50 L706.33,580.31 L705.02,578.13 L703.68,575.94 L702.32,573.76 L700.93,571.57 L699.51,569.39 L698.07,567.21 L696.60,565.02 L695.11,562.84 L693.60,560.65 L692.06,558.47 L690.50,556.28 L688.92,554.10 L687.32,551.91 L685.71,549.73 L684.07,547.54 L682.42,545.36 L680.76,543.17 L679.08,540.99 L677.39,538.80 L675.69,536.62 L673.98,534.43 L672.26,532.25 L670.53,530.06 L668.80,527.88 L667.07,525.69 L665.33,523.51 L663.60,521.32 L661.86,519.14 L660.13,516.95 L658.41,514.77 L656.70,512.58 L654.99,510.40 L653.30,508.21 L651.62,506.03 L649.96,503.84 L648.32,501.66 L646.70,499.47 L645.11,497.29 L643.54,495.10 L642.01,492.92 L640.50,490.73 L639.04,488.55 L637.61,486.36 L636.23,484.18 L634.89,481.99 L633.60,479.81 L632.37,477.63 L631.19,475.44 L630.07,473.26 L629.01,471.07 L628.02,468.89 L627.10,466.70 L626.26,464.52 L625.49,462.33 L624.81,460.15 L624.22,457.96 L623.71,455.78 L623.31,453.59 L623.00,451.41 L622.79,449.22 L622.70,447.04 L622.71,444.85 L622.85,442.67 L623.10,440.48 L623.49,438.30 L624.00,436.11 L624.65,433.93 L625.44,431.74 L626.37,429.56 L627.45,427.37 L628.69,425.19 L630.08,423.00 L631.64,420.82 L633.36,418.63 L635.25,416.45 L637.32,414.26 L639.57,412.08 L642.01,409.89 L644.63,407.71 L647.44,405.52 L650.45,403.34 L653.66,401.15 L657.07,398.97 L660.69,396.78 L664.52,394.60" fill="none" stroke="#e03c3c" stroke-width="1.6" stroke-linejoin="round"/>
<text transform="translate(296.32,720.70) scale(0.8363,1)" font-family="Liberation Sans" font-size="28.12" fill="#6a6a6a">MTF</text>
<text transform="translate(646.60,720.43) scale(0.8687,1)" font-family="Liberation Sans" font-size="27.32" fill="#6a6a6a">DISTORTION</text>
</svg>
</body></html>
